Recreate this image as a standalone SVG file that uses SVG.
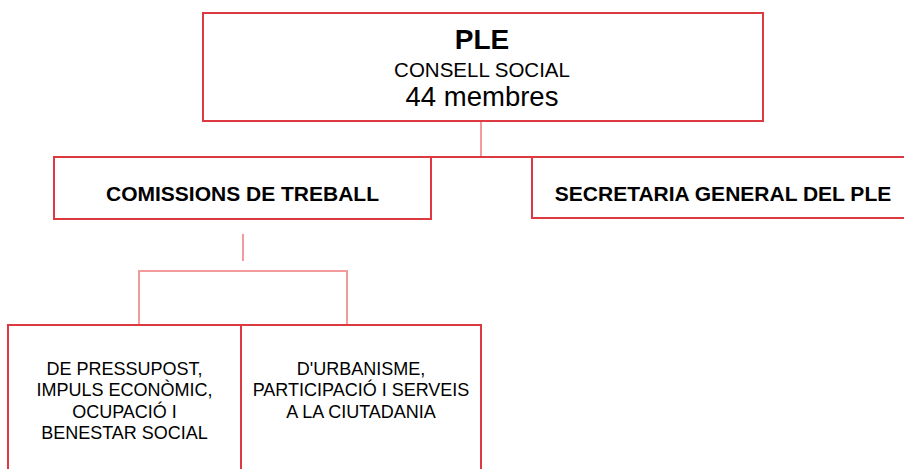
<svg xmlns="http://www.w3.org/2000/svg" width="904" height="469" viewBox="0 0 904 469">
<style>
.box{fill:#fff;stroke:#dc3a40;stroke-width:2}
.con{fill:none;stroke:#f29a9c;stroke-width:2}
.t{font-family:"Liberation Sans",Arial,sans-serif;fill:#000;text-anchor:middle}
.b{font-weight:bold}
</style>
<rect width="904" height="469" fill="#fff"/>
<g id="connectors">
<line class="con" x1="481" y1="121" x2="481" y2="157"/>
<line x1="54" y1="157" x2="904" y2="157" stroke="#dc3a40" stroke-width="2"/>
<line class="con" x1="243" y1="234" x2="243" y2="261"/>
<polyline class="con" points="139,325 139,271 347,271 347,325"/>
</g>
<g id="ple">
<rect class="box" x="203" y="13" width="560" height="108"/>
<text class="t b" x="482" y="49" font-size="28">PLE</text>
<text class="t" x="482" y="77" font-size="20.5">CONSELL SOCIAL</text>
<text class="t" x="482" y="106" font-size="27.5">44 membres</text>
</g>
<g id="comissions">
<rect class="box" x="54" y="157" width="377" height="62"/>
<text class="t b" x="242.5" y="200.5" font-size="21">COMISSIONS DE TREBALL</text>
</g>
<g id="secretaria">
<rect class="box" x="532" y="157" width="382" height="61"/>
<text class="t b" x="723" y="200.5" font-size="21">SECRETARIA GENERAL DEL PLE</text>
</g>
<g id="pressupost">
<rect class="box" x="8" y="325" width="233" height="170"/>
<text class="t" x="124.5" font-size="18"><tspan x="124.5" y="374.5">DE PRESSUPOST,</tspan><tspan x="124.5" y="396">IMPULS ECONÒMIC,</tspan><tspan x="124.5" y="417.7">OCUPACIÓ I</tspan><tspan x="124.5" y="439.4">BENESTAR SOCIAL</tspan></text>
</g>
<g id="urbanisme">
<rect class="box" x="241" y="325" width="240" height="170"/>
<text class="t" x="361" font-size="18"><tspan x="361" y="374.5">D'URBANISME,</tspan><tspan x="361" y="396">PARTICIPACIÓ I SERVEIS</tspan><tspan x="361" y="417.7">A LA CIUTADANIA</tspan></text>
</g>
</svg>
